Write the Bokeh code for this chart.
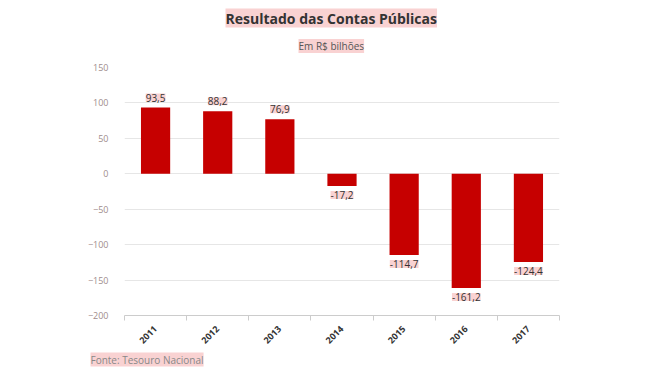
from bokeh.plotting import figure
from bokeh.models import ColumnDataSource, FixedTicker, LabelSet, Range1d, Title
from bokeh.core.properties import value
from bokeh.embed import file_html
from bokeh.resources import INLINE
from math import pi

years = ["2011", "2012", "2013", "2014", "2015", "2016", "2017"]
values = [93.5, 88.2, 76.9, -17.2, -114.7, -161.2, -124.4]
y_ticks = [-200, -150, -100, -50, 0, 50, 100, 150]
title_text = "Resultado das Contas Públicas"
subtitle_text = "Em R$ bilhões"
source_text = "Fonte: Tesouro Nacional"

PINK = "#f9d2d2"
BAR = "#c60000"
FONT = "Open Sans"

pos = [i + 0.5 for i in range(len(years))]
labels = [f"{v:.1f}".replace(".", ",") for v in values]

src = ColumnDataSource(dict(x=pos, top=values, label=labels))
src_pos = ColumnDataSource(dict(x=[p for p, v in zip(pos, values) if v >= 0],
                                y=[v for v in values if v >= 0],
                                label=[l for l, v in zip(labels, values) if v >= 0]))
src_neg = ColumnDataSource(dict(x=[p for p, v in zip(pos, values) if v < 0],
                                y=[v for v in values if v < 0],
                                label=[l for l, v in zip(labels, values) if v < 0]))

p = figure(width=640, height=370, output_backend="svg", toolbar_location=None,
           x_range=Range1d(0, len(years)), y_range=Range1d(min(y_ticks), max(y_ticks)),
           min_border_left=124, min_border_top=67, min_border_right=81, min_border_bottom=55)
p.outline_line_color = None
p.background_fill_color = "white"
p.border_fill_color = "white"

p.vbar(x="x", top="top", bottom=0, width=0.47, source=src, color=BAR, line_color=None)

# x axis
xa = p.xaxis[0]
xa.ticker = FixedTicker(ticks=pos, minor_ticks=list(range(len(years) + 1)))
xa.major_label_overrides = {pp: y for pp, y in zip(pos, years)}
xa.major_tick_out = 0
xa.major_tick_in = 0
xa.minor_tick_out = 5
xa.minor_tick_in = 0
xa.minor_tick_line_color = "#cccccc"
xa.axis_line_color = "#cccccc"
xa.major_label_orientation = pi / 4
xa.major_label_text_font = FONT
xa.major_label_text_font_style = "bold"
xa.major_label_text_font_size = "9px"
xa.major_label_text_color = "#333333"
xa.major_label_standoff = 7

# y axis
ya = p.yaxis[0]
ya.ticker = FixedTicker(ticks=y_ticks)
ya.axis_line_color = None
ya.major_tick_line_color = None
ya.minor_tick_line_color = None
ya.major_label_text_font = FONT
ya.major_label_text_font_size = "9px"
ya.major_label_text_color = "#a08c8c"
ya.major_label_standoff = 10

p.xgrid.grid_line_color = None
p.ygrid.ticker = FixedTicker(ticks=y_ticks)
p.ygrid.grid_line_color = "#e6e6e6"

for s, base, off in [(src_pos, "bottom", 6), (src_neg, "top", -5)]:
    p.add_layout(LabelSet(x="x", y="y", text="label", source=s, text_align="center",
                          text_baseline=base, y_offset=off, text_font=value(FONT),
                          text_font_size=value("10px"), text_color="#333333",
                          background_fill_color=PINK))

sub = Title(text=subtitle_text, align="left", offset=174, text_font=FONT,
            text_font_size="10px", text_font_style="normal", text_color="#555555",
            background_fill_color=PINK, standoff=29)
ttl = Title(text=title_text, align="left", offset=101, text_font=FONT,
            text_font_size="14px", text_font_style="bold", text_color="#333333",
            background_fill_color=PINK, standoff=-10)
p.add_layout(sub, "above")
p.add_layout(ttl, "above")

src_title = Title(text=source_text, align="left", offset=-34, text_font=FONT,
                  text_font_size="10px", text_font_style="normal", text_color="#888888",
                  background_fill_color=PINK, standoff=2)
p.add_layout(src_title, "below")

open("out.html", "w").write(file_html(p, INLINE))
